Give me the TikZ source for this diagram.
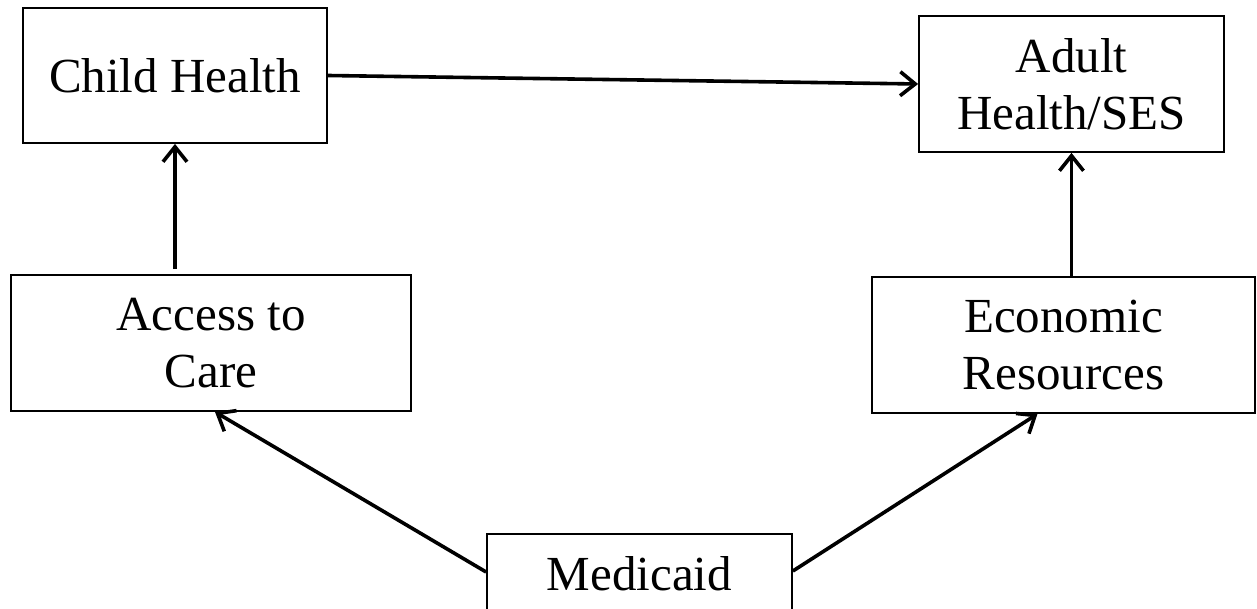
\documentclass[tikz,border=0pt]{standalone}
\usepackage{fontspec}
\setmainfont{Liberation Serif}
\usetikzlibrary{arrows.meta,calc}
\begin{document}
\begin{tikzpicture}[x=1pt,y=-1pt,
  box/.style={draw,line width=1.8pt,rectangle,inner sep=0pt,align=center,
    font=\fontsize{49}{57}\selectfont},
  conn/.style={line width=3.6pt,-{Straight Barb[length=15pt,width=24pt,line width=3.6pt]}}]
\useasboundingbox (0,0) rectangle (1257,609);
\node[box,minimum width=304pt,minimum height=135pt] (ch) at (175,75.5) {Child Health};
\node[box,minimum width=305pt,minimum height=136pt] (ad) at (1071.5,84) {Adult\\Health/SES};
\node[box,minimum width=400pt,minimum height=136pt] (ac) at (211,343) {Access to\\Care};
\node[box,minimum width=383pt,minimum height=136pt] (ec) at (1063.5,345) {Economic\\Resources};
\node[box,minimum width=305pt,minimum height=120pt,anchor=north] (md) at (639.5,533) {};
\node[anchor=base,inner sep=0pt,font=\fontsize{49}{57}\selectfont] (mdt) at ($(md.north)+(0,57)$) {Medicaid};
\draw[conn] (ch.east) -- (ad.west);
\draw[conn] ($(ch.south |- ac.north)+(0,-5)$) -- (ch.south);
\draw[conn] (ad.south |- ec.north) -- (ad.south);
\draw[conn] ($(md.north west)+(0,39)$) -- ($(ac.south)+(4,0)$);
\draw[conn] ($(md.north east)+(0,38)$) -- ($(ec.south)+(-26,0)$);
\end{tikzpicture}
\end{document}
